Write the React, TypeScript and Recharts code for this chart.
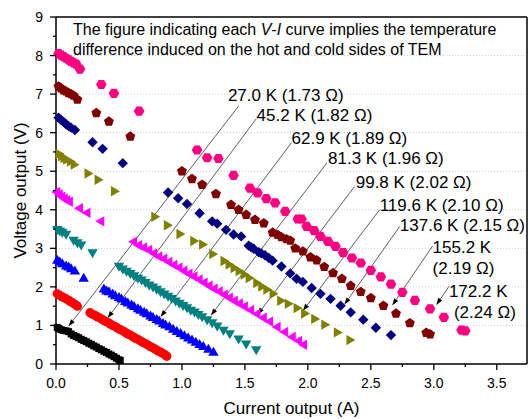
import { ScatterChart, Scatter, XAxis, YAxis, ReferenceLine, ReferenceDot } from "recharts";

type Pt = [number, number];

// V-I points per temperature difference (I in A, V in V)
const dT27: Pt[] = [
  [0.01, 0.95], [0.02, 0.92], [0.04, 0.89], [0.06, 0.87], [0.08, 0.86], [0.1, 0.84],
  [0.12, 0.78], [0.14, 0.74], [0.16, 0.71], [0.18, 0.68], [0.2, 0.64], [0.22, 0.61],
  [0.24, 0.58], [0.26, 0.54], [0.28, 0.51], [0.3, 0.47], [0.32, 0.44], [0.34, 0.4],
  [0.36, 0.37], [0.38, 0.33], [0.4, 0.3], [0.42, 0.26], [0.44, 0.23], [0.46, 0.19],
  [0.48, 0.15], [0.5, 0.11], [0.51, 0.09],
];
const dT45: Pt[] = [
  [0.01, 1.82], [0.03, 1.78], [0.05, 1.74], [0.07, 1.71], [0.09, 1.67], [0.11, 1.63],
  [0.13, 1.59], [0.15, 1.55], [0.17, 1.5],
  [0.27, 1.33], [0.29, 1.29], [0.31, 1.26], [0.33, 1.22], [0.35, 1.19], [0.37, 1.15],
  [0.39, 1.11], [0.41, 1.08], [0.43, 1.04], [0.45, 1.0], [0.47, 0.97], [0.49, 0.93],
  [0.51, 0.89], [0.53, 0.86], [0.55, 0.82], [0.57, 0.78], [0.59, 0.75], [0.61, 0.71],
  [0.63, 0.67], [0.65, 0.64], [0.67, 0.6], [0.69, 0.56], [0.71, 0.53], [0.73, 0.49],
  [0.75, 0.45], [0.77, 0.42], [0.79, 0.38], [0.81, 0.34], [0.83, 0.31], [0.85, 0.27],
  [0.87, 0.23], [0.88, 0.2],
];
const dT63: Pt[] = [
  [0.01, 2.68], [0.03, 2.63], [0.05, 2.59], [0.08, 2.53], [0.1, 2.5], [0.12, 2.46],
  [0.15, 2.4], [0.22, 2.21],
  [0.38, 1.93], [0.4, 1.88], [0.42, 1.86], [0.45, 1.8], [0.47, 1.76], [0.5, 1.71],
  [0.52, 1.67], [0.55, 1.61], [0.57, 1.57], [0.6, 1.52], [0.62, 1.48], [0.65, 1.42],
  [0.67, 1.38], [0.7, 1.33], [0.72, 1.29], [0.75, 1.23], [0.77, 1.19], [0.8, 1.14],
  [0.82, 1.1], [0.85, 1.04], [0.87, 1.0], [0.9, 0.95], [0.93, 0.89], [0.96, 0.83],
  [0.99, 0.78], [1.02, 0.72], [1.05, 0.66], [1.08, 0.61], [1.11, 0.55], [1.14, 0.49],
  [1.17, 0.44], [1.21, 0.37], [1.25, 0.29],
];
const dT81: Pt[] = [
  [0.01, 3.5], [0.03, 3.46], [0.05, 3.43], [0.08, 3.38], [0.14, 3.22], [0.17, 3.16],
  [0.2, 3.1], [0.29, 2.9],
  [0.5, 2.55], [0.53, 2.48], [0.56, 2.42], [0.59, 2.36], [0.62, 2.3], [0.65, 2.24],
  [0.68, 2.19], [0.71, 2.13], [0.74, 2.06], [0.77, 2.01], [0.8, 1.95], [0.83, 1.89],
  [0.86, 1.83], [0.89, 1.77], [0.92, 1.71], [0.95, 1.65], [0.98, 1.59], [1.01, 1.53],
  [1.04, 1.47], [1.07, 1.41], [1.1, 1.36], [1.13, 1.3], [1.16, 1.24], [1.2, 1.16],
  [1.24, 1.08], [1.28, 1.0], [1.33, 0.89], [1.38, 0.8], [1.45, 0.66], [1.51, 0.53],
  [1.59, 0.38],
];
const dT100: Pt[] = [
  [0.01, 4.46], [0.03, 4.4], [0.05, 4.34], [0.07, 4.29], [0.09, 4.25], [0.11, 4.21],
  [0.19, 4.04], [0.25, 3.92], [0.36, 3.7],
  [0.62, 3.17], [0.66, 3.08], [0.7, 3.02], [0.74, 2.96], [0.78, 2.87], [0.82, 2.79],
  [0.86, 2.73], [0.9, 2.65], [0.94, 2.57], [0.98, 2.5], [1.02, 2.42], [1.06, 2.34],
  [1.1, 2.27], [1.14, 2.19], [1.18, 2.11], [1.22, 2.03], [1.26, 1.95], [1.3, 1.88],
  [1.34, 1.8], [1.38, 1.72], [1.42, 1.64], [1.46, 1.57], [1.5, 1.49], [1.55, 1.4],
  [1.6, 1.3], [1.65, 1.2], [1.7, 1.1], [1.76, 0.96], [1.82, 0.83], [1.88, 0.7],
  [1.93, 0.6], [1.97, 0.5],
];
const dT120: Pt[] = [
  [0.02, 5.45], [0.04, 5.39], [0.06, 5.34], [0.08, 5.3], [0.11, 5.25], [0.14, 5.17],
  [0.25, 4.94], [0.33, 4.78], [0.46, 4.48],
  [0.78, 3.82], [0.88, 3.6], [0.98, 3.37], [1.09, 3.19], [1.16, 3.1], [1.24, 2.85],
  [1.33, 2.67], [1.37, 2.58], [1.41, 2.49], [1.45, 2.41], [1.49, 2.32], [1.53, 2.23],
  [1.59, 2.1], [1.63, 2.01], [1.67, 1.93], [1.72, 1.82], [1.78, 1.64], [1.84, 1.56],
  [1.91, 1.45], [1.97, 1.31], [2.05, 1.17], [2.13, 1.02], [2.23, 0.82], [2.33, 0.62],
];
const dT138: Pt[] = [
  [0.02, 6.39], [0.04, 6.33], [0.06, 6.28], [0.08, 6.22], [0.1, 6.17], [0.12, 6.13],
  [0.15, 6.07], [0.29, 5.75], [0.37, 5.58], [0.53, 5.21],
  [0.89, 4.45], [0.97, 4.3], [1.04, 4.15], [1.14, 3.91], [1.24, 3.7], [1.28, 3.64],
  [1.35, 3.48], [1.41, 3.36], [1.47, 3.31], [1.53, 3.07], [1.55, 3.03], [1.57, 2.99],
  [1.61, 2.9], [1.63, 2.87], [1.66, 2.82], [1.69, 2.75], [1.72, 2.68], [1.79, 2.53],
  [1.86, 2.35], [1.91, 2.21], [1.96, 2.13], [2.03, 1.97], [2.1, 1.82], [2.18, 1.69],
  [2.26, 1.51], [2.34, 1.34], [2.44, 1.15], [2.54, 0.94], [2.66, 0.75],
];
const dT155: Pt[] = [
  [0.02, 7.2], [0.04, 7.15], [0.06, 7.1], [0.08, 7.07], [0.1, 7.03], [0.12, 7.0],
  [0.14, 6.96], [0.17, 6.86], [0.32, 6.51], [0.42, 6.29], [0.59, 5.9],
  [1.0, 5.0], [1.08, 4.8], [1.16, 4.65], [1.27, 4.41], [1.39, 4.13], [1.45, 4.0],
  [1.51, 3.87], [1.58, 3.74], [1.65, 3.65], [1.72, 3.41], [1.76, 3.35], [1.79, 3.29],
  [1.83, 3.24], [1.86, 3.2], [1.9, 3.0], [1.96, 2.92], [2.02, 2.77], [2.07, 2.69],
  [2.13, 2.52], [2.2, 2.36], [2.27, 2.21], [2.34, 2.03], [2.42, 1.87], [2.5, 1.71],
  [2.6, 1.51], [2.7, 1.31], [2.81, 1.06], [2.94, 0.81], [2.97, 0.77],
];
const dT172: Pt[] = [
  [0.02, 8.05], [0.04, 8.01], [0.06, 7.97], [0.08, 7.93], [0.1, 7.89], [0.12, 7.85],
  [0.14, 7.81], [0.16, 7.78], [0.19, 7.65], [0.36, 7.25], [0.46, 7.02], [0.66, 6.56],
  [1.12, 5.55], [1.2, 5.35], [1.29, 5.33], [1.41, 4.89], [1.54, 4.56], [1.6, 4.44],
  [1.67, 4.29], [1.74, 4.18], [1.82, 3.96], [1.92, 3.76], [1.95, 3.76], [1.99, 3.57],
  [2.05, 3.46], [2.1, 3.31], [2.16, 3.18], [2.22, 3.05], [2.28, 2.89], [2.35, 2.75],
  [2.42, 2.62], [2.5, 2.43], [2.58, 2.26], [2.66, 2.07], [2.75, 1.86], [2.85, 1.65],
  [2.97, 1.43], [3.08, 1.21], [3.22, 0.88], [3.25, 0.86],
];

const seriesData = [dT27, dT45, dT63, dT81, dT100, dT120, dT138, dT155, dT172];
const seriesColors = ["#000000", "#ff0000", "#0000ff", "#008080", "#ff00ff", "#808000", "#000080", "#800000", "#ff0080"];
const seriesSymbols = ["square", "circle", "up", "down", "left", "right", "diamond", "pentagon", "hexagon"];

const xTicks = [0, 0.25, 0.5, 0.75, 1, 1.25, 1.5, 1.75, 2, 2.25, 2.5, 2.75, 3, 3.25, 3.5];
const yTicks = [0, 0.5, 1, 1.5, 2, 2.5, 3, 3.5, 4, 4.5, 5, 5.5, 6, 6.5, 7, 7.5, 8, 8.5, 9];
const gridValues = [1, 2, 3, 4, 5, 6, 7, 8];

// annotation text and where it sits (data coords, left edge / middle)
const noteTexts = [
  "27.0 K (1.73 Ω)", "45.2 K (1.82 Ω)", "62.9 K (1.89 Ω)", "81.3 K (1.96 Ω)",
  "99.8 K (2.02 Ω)", "119.6 K (2.10 Ω)", "137.6 K (2.15 Ω)", "155.2 K", "(2.19 Ω)",
  "172.2 K", "(2.24 Ω)",
];
const noteAnchors: Pt[] = [
  [1.365, 6.97], [1.593, 6.45], [1.87, 5.87], [2.16, 5.34], [2.38, 4.73], [2.57, 4.13],
  [2.73, 3.61], [2.99, 3.04], [2.99, 2.5], [3.12, 1.9], [3.16, 1.36],
];
const arrowStarts: Pt[] = [
  [1.45, 6.69], [1.59, 6.36], [1.87, 5.74], [2.15, 5.21], [2.37, 4.6], [2.57, 4.0],
  [2.73, 3.57], [2.99, 3.06], [3.12, 2.01],
];
const arrowTips: Pt[] = [
  [0.1, 0.98], [0.41, 1.19], [0.83, 1.22], [1.23, 1.26], [1.6, 1.28], [1.96, 1.38],
  [2.29, 1.54], [2.67, 1.52], [3.02, 1.53],
];

const FONT = '"Liberation Sans", Arial, sans-serif';

function polyPoints(cx: number, cy: number, r: number, n: number, rot: number) {
  const pts: string[] = [];
  for (let i = 0; i < n; i++) {
    const a = rot + (i * 2 * Math.PI) / n;
    pts.push(`${cx + r * Math.cos(a)},${cy + r * Math.sin(a)}`);
  }
  return pts.join(" ");
}

function makeShape(kind: string) {
  return (props: any) => {
    const { cx, cy, fill } = props;
    if (cx == null || cy == null) return <g />;
    switch (kind) {
      case "square":
        return <rect x={cx - 3.5} y={cy - 3.5} width={7} height={7} fill={fill} />;
      case "circle":
        return <circle cx={cx} cy={cy} r={4.6} fill={fill} />;
      case "up":
        return <polygon points={polyPoints(cx, cy, 6, 3, -Math.PI / 2)} fill={fill} />;
      case "down":
        return <polygon points={polyPoints(cx, cy, 6, 3, Math.PI / 2)} fill={fill} />;
      case "left":
        return <polygon points={polyPoints(cx, cy, 6, 3, Math.PI)} fill={fill} />;
      case "right":
        return <polygon points={polyPoints(cx, cy, 6, 3, 0)} fill={fill} />;
      case "diamond":
        return <polygon points={polyPoints(cx, cy, 5.2, 4, -Math.PI / 2)} fill={fill} />;
      case "pentagon":
        return <polygon points={polyPoints(cx, cy, 5.2, 5, -Math.PI / 2)} fill={fill} />;
      default:
        return <polygon points={polyPoints(cx, cy, 5.3, 6, 0)} fill={fill} />;
    }
  };
}

function Arrow(props: any) {
  const { x1, y1, x2, y2 } = props;
  const ang = Math.atan2(y2 - y1, x2 - x1);
  const L = 7;
  const W = 2.4;
  const bx = x2 - L * Math.cos(ang);
  const by = y2 - L * Math.sin(ang);
  const pts = `${x2},${y2} ${bx + W * Math.sin(ang)},${by - W * Math.cos(ang)} ${bx - W * Math.sin(ang)},${by + W * Math.cos(ang)}`;
  return (
    <g>
      <line x1={x1} y1={y1} x2={bx} y2={by} stroke="#333" strokeWidth={0.8} />
      <polygon points={pts} fill="#000" />
    </g>
  );
}

function YTick(props: any) {
  const { x, y, payload } = props;
  const v = payload.value;
  const major = Number.isInteger(v);
  const axisX = x + 12;
  return (
    <g>
      <line x1={axisX - (major ? 6 : 3)} y1={y} x2={axisX} y2={y} stroke="#000" strokeWidth={1.3} />
      {major && (
        <text x={x - 1} y={y} dy="0.355em" textAnchor="end" fontSize={14} fill="#000">
          {v}
        </text>
      )}
    </g>
  );
}

function XTick(props: any) {
  const { x, y, payload } = props;
  const v = payload.value;
  const major = Math.abs(v * 2 - Math.round(v * 2)) < 1e-6;
  const axisY = y - 14;
  return (
    <g>
      <line x1={x} y1={axisY} x2={x} y2={axisY + (major ? 6 : 3)} stroke="#000" strokeWidth={1.3} />
      {major && (
        <text x={x} y={y} dy="0.71em" textAnchor="middle" fontSize={14} fill="#000">
          {v.toFixed(1)}
        </text>
      )}
    </g>
  );
}

export default function App() {
  return (
    <div
      style={{
        position: "absolute",
        left: 0,
        top: 0,
        width: 531,
        height: 419,
        background: "#fff",
        fontFamily: FONT,
      }}
    >
      <ScatterChart width={531} height={419} margin={{ top: 17, right: 4, bottom: 25, left: 0 }}>
        <XAxis
          type="number"
          dataKey="x"
          domain={[0, 3.74]}
          ticks={xTicks}
          interval={0}
          tickLine={false}
          tickSize={6}
          tickMargin={8}
          tick={<XTick />}
          axisLine={{ stroke: "#000", strokeWidth: 1.5 }}
          height={30}
        />
        <YAxis
          type="number"
          dataKey="y"
          domain={[0, 9]}
          ticks={yTicks}
          interval={0}
          tickLine={false}
          tickSize={6}
          tickMargin={6}
          tick={<YTick />}
          axisLine={{ stroke: "#000", strokeWidth: 1.5 }}
          width={56}
        />
        {gridValues.map((g) => (
          <ReferenceLine key={"g" + g} y={g} stroke="#cccccc" strokeWidth={1} strokeDasharray="1 2" />
        ))}
        <ReferenceLine y={9} stroke="#000" strokeWidth={1.5} />
        <ReferenceLine x={3.74} stroke="#000" strokeWidth={1.5} />
        {seriesData.map((d, i) => (
          <Scatter
            key={i}
            data={d.map(([x, y]) => ({ x, y }))}
            fill={seriesColors[i]}
            shape={makeShape(seriesSymbols[i])}
            isAnimationActive={false}
          />
        ))}
        {arrowStarts.map((s, i) => (
          <ReferenceLine
            key={"a" + i}
            segment={[
              { x: s[0], y: s[1] },
              { x: arrowTips[i][0], y: arrowTips[i][1] },
            ]}
            shape={<Arrow />}
          />
        ))}
        {noteAnchors.map((p, i) => (
          <ReferenceDot
            key={"n" + i}
            x={p[0]}
            y={p[1]}
            r={0}
            ifOverflow="visible"
            shape={(props: any) => (
              <text x={props.cx} y={props.cy} dy="0.36em" fontSize={17} fill="#000">
                {noteTexts[i]}
              </text>
            )}
          />
        ))}
      </ScatterChart>
      <svg
        width={531}
        height={419}
        style={{ position: "absolute", left: 0, top: 0, pointerEvents: "none" }}
      >
        <text x={73} y={29} dy="0.36em" fontSize={16} fill="#000">
          The figure indicating each <tspan fontStyle="italic">V</tspan>-<tspan fontStyle="italic">I</tspan> curve
          implies the temperature
        </text>
        <text x={73} y={49.5} dy="0.36em" fontSize={16} fill="#000">
          difference induced on the hot and cold sides of TEM
        </text>
        <text x={291.5} y={408} dy="0.36em" textAnchor="middle" fontSize={17} fill="#000">
          Current output (A)
        </text>
        <text
          x={20}
          y={190.5}
          dy="0.36em"
          textAnchor="middle"
          fontSize={17}
          fill="#000"
          transform="rotate(-90 20 190.5)"
        >
          Voltage output (V)
        </text>
      </svg>
    </div>
  );
}
